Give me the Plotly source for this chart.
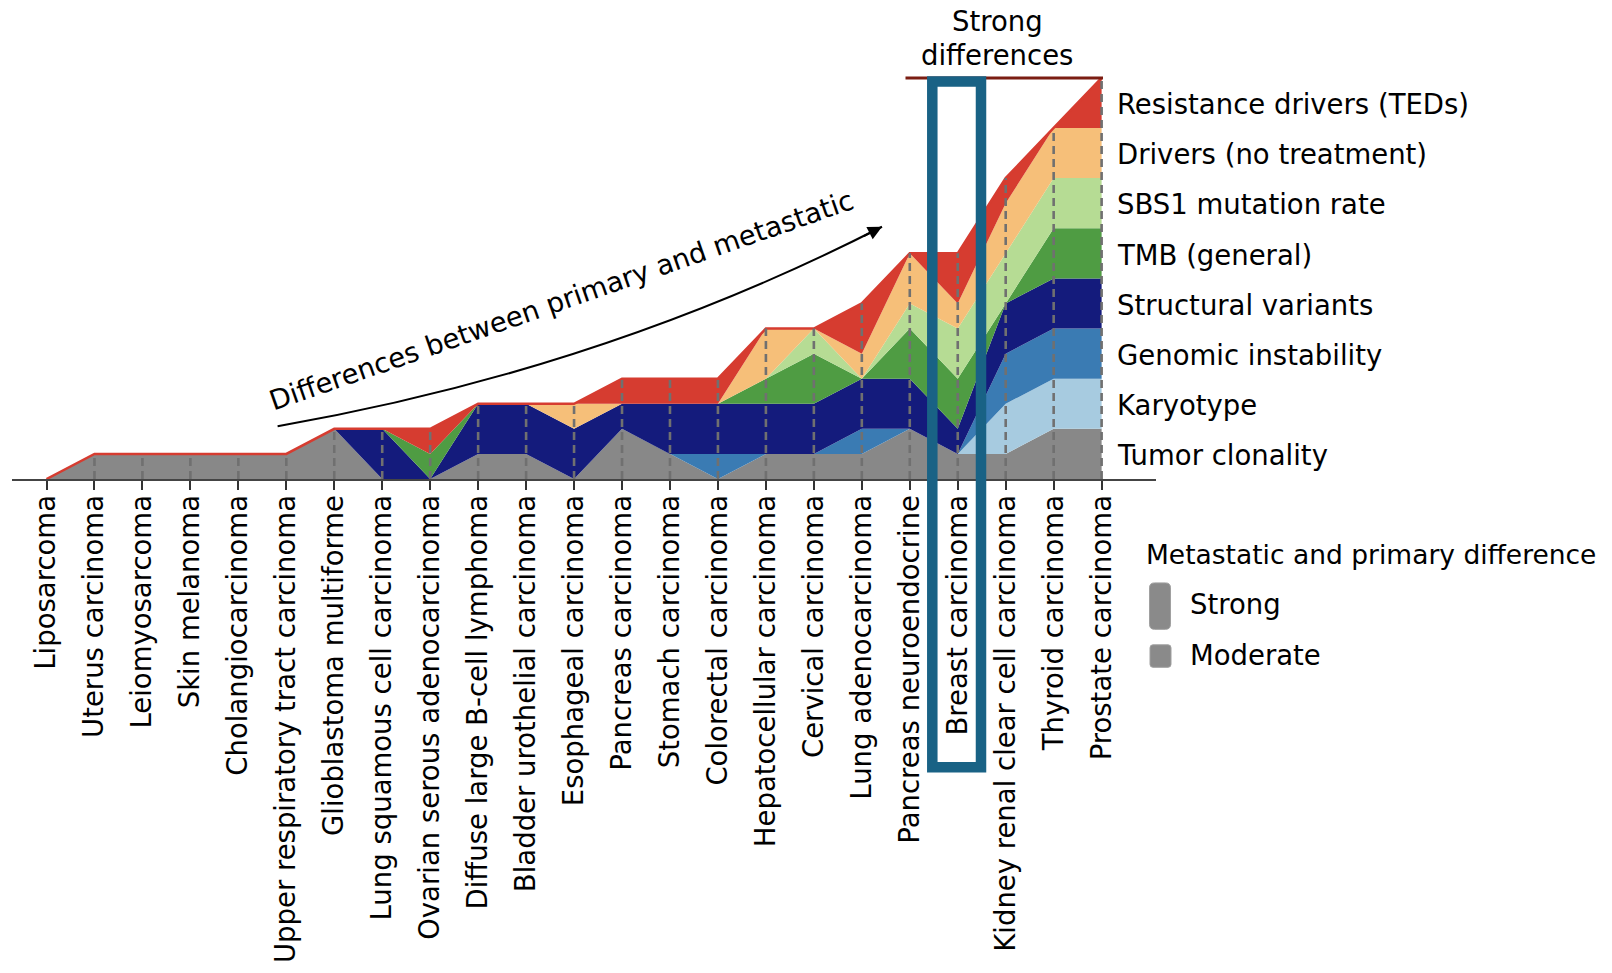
import plotly.graph_objects as go

# ---------------- data ----------------
categories = [
    "Liposarcoma", "Uterus carcinoma", "Leiomyosarcoma", "Skin melanoma",
    "Cholangiocarcinoma", "Upper respiratory tract carcinoma",
    "Glioblastoma multiforme", "Lung squamous cell carcinoma",
    "Ovarian serous adenocarcinoma", "Diffuse large B-cell lymphoma",
    "Bladder urothelial carcinoma", "Esophageal carcinoma",
    "Pancreas carcinoma", "Stomach carcinoma", "Colorectal carcinoma",
    "Hepatocellular carcinoma", "Cervical carcinoma", "Lung adenocarcinoma",
    "Pancreas neuroendocrine", "Breast carcinoma",
    "Kidney renal clear cell carcinoma", "Thyroid carcinoma",
    "Prostate carcinoma",
]

# 0 = no difference, 1 = moderate, 2 = strong
tumor_clonality     = [0, 1, 1, 1, 1, 1, 2, 0, 0, 1, 1, 0, 2, 1, 0, 1, 1, 1, 2, 1, 1, 2, 2]
karyotype           = [0, 0, 0, 0, 0, 0, 0, 0, 0, 0, 0, 0, 0, 0, 0, 0, 0, 0, 0, 0, 2, 2, 2]
genomic_instability = [0, 0, 0, 0, 0, 0, 0, 0, 0, 0, 0, 0, 0, 0, 1, 0, 0, 1, 0, 0, 2, 2, 2]
structural_variants = [0, 0, 0, 0, 0, 0, 0, 2, 0, 2, 2, 2, 1, 2, 2, 2, 2, 2, 2, 1, 2, 2, 2]
tmb_general         = [0, 0, 0, 0, 0, 0, 0, 0, 1, 0, 0, 0, 0, 0, 0, 1, 2, 0, 2, 2, 0, 2, 2]
sbs1_rate           = [0, 0, 0, 0, 0, 0, 0, 0, 0, 0, 0, 0, 0, 0, 0, 0, 1, 0, 1, 2, 2, 2, 2]
drivers_no_treat    = [0, 0, 0, 0, 0, 0, 0, 0, 0, 0, 0, 1, 0, 0, 0, 2, 0, 1, 2, 1, 2, 2, 2]
resistance_drivers  = [0, 0, 0, 0, 0, 0, 0, 0, 1, 0, 0, 0, 1, 1, 1, 0, 0, 2, 0, 2, 1, 0, 2]

layer_names = [
    "Tumor clonality", "Karyotype", "Genomic instability", "Structural variants",
    "TMB (general)", "SBS1 mutation rate", "Drivers (no treatment)",
    "Resistance drivers (TEDs)",
]
layer_values = [
    tumor_clonality, karyotype, genomic_instability, structural_variants,
    tmb_general, sbs1_rate, drivers_no_treat, resistance_drivers,
]
layer_colors = [
    "#888888", "#a7cbe0", "#3a7bb3", "#141b7c",
    "#4f9c43", "#b6dc94", "#f6bf79", "#d63c30",
]

# ---------------- geometry helpers ----------------
W, H = 1612, 973
BASE = 479.5          # pixel y of the baseline
UNIT = 25.1           # pixels per unit
X0, DX = 46.5, 47.96  # pixel x of first category, spacing
AX_L, AX_R = 12, 1156
FONT = "DejaVu Sans"
FS = 27.5


def px(x):
    return x / W


def py(y):
    return 1 - y / BASE


fig = go.Figure()

for name, vals, col in zip(layer_names, layer_values, layer_colors):
    is_top = name == "Resistance drivers (TEDs)"
    fig.add_trace(go.Scatter(
        x=categories, y=vals, name=name, mode="lines",
        stackgroup="one", fillcolor=col,
        line=dict(color=col, width=2.5 if is_top else 0),
        hoverinfo="skip", showlegend=False,
    ))

# dashed guide lines from baseline to top of each stack
totals = [sum(v) for v in zip(*layer_values)]
gx, gy = [], []
for c, t in zip(categories, totals):
    if t > 0:
        gx += [c, c, None]
        gy += [0, t, None]
fig.add_trace(go.Scatter(
    x=gx, y=gy, mode="lines",
    line=dict(color="#707070", width=2.6, dash="8px,5px"),
    hoverinfo="skip", showlegend=False,
))

# ---------------- annotations ----------------
ann = []
cum = 0
last = [v[-1] for v in layer_values]
for name, v in zip(layer_names, last):
    ann.append(dict(
        xref="paper", yref="y", x=px(1115), y=cum + v / 2 - 0.05,
        text=name, showarrow=False, xanchor="left", yanchor="middle",
        font=dict(family=FONT, size=FS, color="black"),
    ))
    cum += v

for txt, yy in (("Strong", 21), ("differences", 55.5)):
    ann.append(dict(
        xref="paper", yref="paper", x=px(997), y=py(yy),
        text=txt, showarrow=False,
        xanchor="center", yanchor="middle", borderpad=0,
        font=dict(family=FONT, size=FS, color="black"),
    ))

ann.append(dict(
    xref="paper", yref="paper", x=px(561), y=py(300),
    text="Differences between primary and metastatic", showarrow=False,
    xanchor="center", yanchor="middle", textangle=-19.2,
    font=dict(family=FONT, size=FS, color="black"),
))

# curved arrow geometry (pixels)
P0 = (277.6, 426.6)
C = (602.5, 370.0)
P2 = (882.0, 227.0)
dxp, dyp = P2[0] - C[0], P2[1] - C[1]
L = (dxp ** 2 + dyp ** 2) ** 0.5
ann.append(dict(
    xref="paper", yref="paper", x=px(P2[0]), y=py(P2[1]),
    ax=-dxp / L * 22, ay=-dyp / L * 22, text="", showarrow=True,
    arrowhead=2, arrowsize=1.4, arrowwidth=2, arrowcolor="black",
))

# legend block
ann.append(dict(
    xref="paper", yref="paper", x=px(1145), y=py(555),
    text="Metastatic and primary difference", showarrow=False,
    xanchor="left", yanchor="middle", borderpad=0,
    font=dict(family=FONT, size=26.5, color="black"),
))
ann.append(dict(
    xref="paper", yref="paper", x=px(1188), y=py(605),
    text="Strong", showarrow=False, xanchor="left", yanchor="middle",
    font=dict(family=FONT, size=FS, color="black"),
))
ann.append(dict(
    xref="paper", yref="paper", x=px(1188), y=py(656),
    text="Moderate", showarrow=False, xanchor="left", yanchor="middle",
    font=dict(family=FONT, size=FS, color="black"),
))


def rounded_rect(x0, y0, x1, y1, r):
    pts = [
        f"M {px(x0 + r)},{py(y0)}",
        f"L {px(x1 - r)},{py(y0)}",
        f"Q {px(x1)},{py(y0)} {px(x1)},{py(y0 + r)}",
        f"L {px(x1)},{py(y1 - r)}",
        f"Q {px(x1)},{py(y1)} {px(x1 - r)},{py(y1)}",
        f"L {px(x0 + r)},{py(y1)}",
        f"Q {px(x0)},{py(y1)} {px(x0)},{py(y1 - r)}",
        f"L {px(x0)},{py(y0 + r)}",
        f"Q {px(x0)},{py(y0)} {px(x0 + r)},{py(y0)}",
        "Z",
    ]
    return " ".join(pts)


shapes = [
    dict(type="path", xref="paper", yref="paper",
         path=f"M {px(P0[0])},{py(P0[1])} Q {px(C[0])},{py(C[1])} {px(P2[0])},{py(P2[1])}",
         line=dict(color="black", width=2)),
    dict(type="line", xref="paper", yref="paper",
         x0=px(905.5), x1=px(1103), y0=py(78), y1=py(78),
         line=dict(color="#7b1d12", width=3), layer="above"),
    dict(type="rect", xref="paper", yref="paper",
         x0=px(932.3), x1=px(981), y0=py(768), y1=py(81.5),
         line=dict(color="#196285", width=10.5), fillcolor="rgba(0,0,0,0)",
         layer="above"),
    dict(type="path", xref="paper", yref="paper",
         path=rounded_rect(1149.5, 583.5, 1170.5, 630, 5),
         fillcolor="#8a8a8a", line=dict(color="#a0a0a0", width=1)),
    dict(type="path", xref="paper", yref="paper",
         path=rounded_rect(1150, 645.5, 1171, 668, 3),
         fillcolor="#8a8a8a", line=dict(color="#a0a0a0", width=1)),
]

x_lo = (AX_L - X0) / DX
x_hi = (AX_R - X0) / DX

fig.update_layout(
    width=W, height=H,
    margin=dict(l=0, r=0, t=0, b=H - BASE, pad=0),
    paper_bgcolor="white", plot_bgcolor="white",
    showlegend=False,
    xaxis=dict(
        domain=[AX_L / W, AX_R / W], range=[x_lo, x_hi],
        type="category", tickmode="array", tickvals=categories,
        ticktext=categories, tickangle=-90, ticklabelstandoff=-6,
        tickfont=dict(family=FONT, size=FS, color="black"),
        ticks="outside", ticklen=9, tickwidth=2, tickcolor="#333333",
        showline=True, linecolor="#444444", linewidth=2,
        showgrid=False, zeroline=False, fixedrange=True,
    ),
    yaxis=dict(range=[0, BASE / UNIT], visible=False, fixedrange=True),
    annotations=ann, shapes=shapes,
)

fig.write_html(
    "out.html",
    config={"displayModeBar": False, "staticPlot": True},
    post_script="document.body.style.margin='0';document.body.style.overflow='hidden';",
)
